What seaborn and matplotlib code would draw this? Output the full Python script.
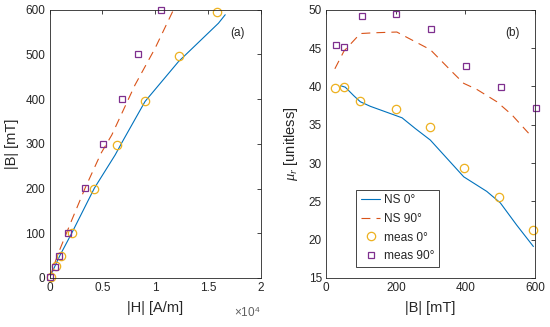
import numpy as np
import pandas as pd
import seaborn as sns
import matplotlib.pyplot as plt

# panel (a): B-H curves, H in A/m, B in mT
ns0_H = [0, 200, 1000, 2100, 4250, 6210, 7000, 9050, 12210, 16000, 16640]
ns0_B = [0, 10.5, 51, 100, 201, 275, 309, 395, 484, 570, 589]
ns90_H = [0, 830, 2100, 3370, 4880, 5900, 8100, 10000, 11740]
ns90_B = [0, 55, 129, 201, 279, 320, 432, 514, 600]
meas0_H = [150, 590, 1060, 2100, 4220, 6370, 9050, 12270, 15850]
meas0_B = [3, 26, 50, 100, 199, 297, 396, 497, 595]
meas90_H = [50, 520, 900, 1780, 3360, 5040, 6900, 8420, 10540]
meas90_B = [3, 25, 50, 100, 202, 300, 401, 501, 600]

# panel (b): relative permeability vs |B|
ns0_Bb = [41, 55, 79, 98, 127, 194, 218, 256, 299, 337, 395, 461, 500, 547, 595]
ns0_mu = [40.1, 39.9, 38.8, 38.0, 37.4, 36.3, 35.9, 34.5, 33.0, 31.1, 28.2, 26.3, 24.8, 21.9, 19.1]
ns90_Bb = [25, 51, 98, 137, 203, 232, 299, 366, 395, 433, 490, 533, 581]
ns90_mu = [42.3, 44.6, 46.9, 47.0, 47.1, 46.4, 44.8, 41.7, 40.4, 39.6, 38.0, 36.3, 33.9]
meas0_Bb = [25, 52, 98, 200, 297, 396, 497, 595]
meas0_mu = [39.8, 39.9, 38.1, 37.0, 34.7, 29.3, 25.6, 21.2]
meas90_Bb = [27, 52, 102, 201, 301, 401, 501, 602]
meas90_mu = [45.35, 45.2, 49.2, 49.5, 47.5, 42.7, 39.9, 37.2]

c_blue = '#0072BD'
c_orange = '#D95319'
c_yellow = '#EDB120'
c_purple = '#7E2F8E'
c_text = '#262626'

sns.set_theme(style='white')
plt.rcParams['font.family'] = ['Liberation Sans', 'DejaVu Sans']
plt.rcParams['axes.edgecolor'] = c_text
plt.rcParams['axes.linewidth'] = 0.6
plt.rcParams['xtick.color'] = c_text
plt.rcParams['ytick.color'] = c_text
plt.rcParams['mathtext.fontset'] = 'custom'
plt.rcParams['mathtext.it'] = 'Liberation Serif:italic'
plt.rcParams['mathtext.rm'] = 'Liberation Sans'

fig = plt.figure(figsize=(5.5, 3.27), dpi=100)
ax1 = fig.add_axes([0.090, 0.150, 0.384, 0.820])
ax2 = fig.add_axes([0.593, 0.150, 0.380, 0.820])


def draw_panel(ax, x0, y0, x90, y90, mx0, my0, mx90, my90):
    sns.lineplot(x=x0, y=y0, ax=ax, color=c_blue, lw=0.8, sort=False, estimator=None, label='NS 0°')
    sns.lineplot(x=x90, y=y90, ax=ax, color=c_orange, lw=0.8, sort=False, estimator=None,
                 linestyle=(0, (8, 5.5)), label='NS 90°')
    sns.lineplot(x=mx0, y=my0, ax=ax, linestyle='', marker='o', markersize=6,
                 markerfacecolor='none', markeredgecolor=c_yellow, markeredgewidth=0.9,
                 sort=False, estimator=None, label='meas 0°', clip_on=False)
    sns.lineplot(x=mx90, y=my90, ax=ax, linestyle='', marker='s', markersize=4.6,
                 markerfacecolor='none', markeredgecolor=c_purple, markeredgewidth=0.9,
                 sort=False, estimator=None, label='meas 90°', clip_on=False)


# (a) H axis shown in units of 10^4 A/m
h = lambda v: np.array(v) / 1e4
draw_panel(ax1, h(ns0_H), ns0_B, h(ns90_H), ns90_B, h(meas0_H), meas0_B, h(meas90_H), meas90_B)
ax1.get_legend().remove()
ax1.set_xlim(0, 2)
ax1.set_ylim(0, 600)
ax1.set_xticks([0, 0.5, 1, 1.5, 2])
ax1.set_xticklabels(['0', '0.5', '1', '1.5', '2'])
ax1.set_yticks(range(0, 601, 100))
ax1.set_xlabel('|H| [A/m]', fontsize=10.5, color=c_text, labelpad=5)
ax1.set_ylabel('|B| [mT]', fontsize=10.5, color=c_text, labelpad=5)
ax1.text(0.89, 0.914, '(a)', transform=ax1.transAxes, ha='center', va='center', fontsize=8.5, color=c_text)
ax1.text(1.0, -0.13, r'$\times$10$^{4}$', transform=ax1.transAxes, ha='right', va='center',
         fontsize=8.5, color='#606060')

# (b)
draw_panel(ax2, ns0_Bb, ns0_mu, ns90_Bb, ns90_mu, meas0_Bb, meas0_mu, meas90_Bb, meas90_mu)
ax2.set_xlim(0, 600)
ax2.set_ylim(15, 50)
ax2.set_xticks([0, 200, 400, 600])
ax2.set_yticks(range(15, 51, 5))
ax2.set_xlabel('|B| [mT]', fontsize=10.5, color=c_text, labelpad=5)
ax2.set_ylabel(r'$\mu_r$ [unitless]', fontsize=10.5, color=c_text, labelpad=6)
ax2.text(0.89, 0.914, '(b)', transform=ax2.transAxes, ha='center', va='center', fontsize=8.5, color=c_text)
leg = ax2.legend(loc='lower left', bbox_to_anchor=(0.144, 0.041), fontsize=8.6, frameon=True,
                 fancybox=False, edgecolor=c_text, framealpha=1, borderpad=0.4,
                 handlelength=1.6, handletextpad=0.3, labelspacing=0.55, borderaxespad=0)
leg.get_frame().set_linewidth(0.6)
for t in leg.get_texts():
    t.set_color(c_text)

for ax in (ax1, ax2):
    ax.tick_params(direction='in', length=3, width=0.6, top=True, right=True,
                   labelsize=8.5, pad=3, labelcolor=c_text)
    for s in ax.spines.values():
        s.set_visible(True)

fig.savefig('out.png', dpi=100)
